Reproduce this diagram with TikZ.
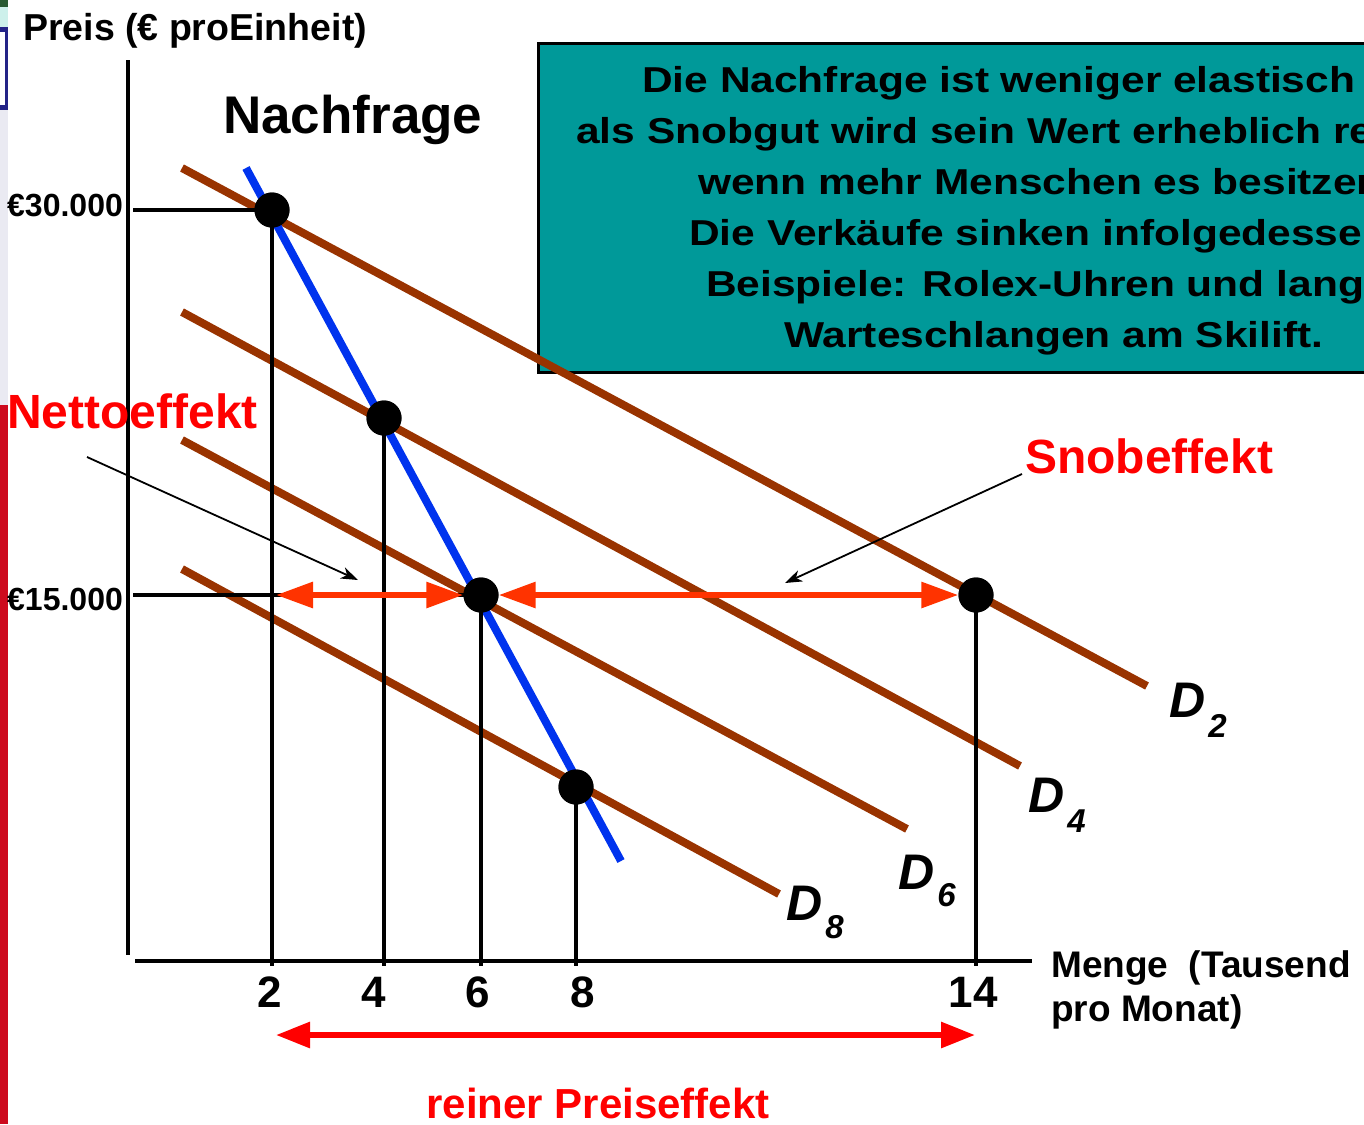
\documentclass[tikz,border=0pt]{standalone}
\usepackage{fontspec}
\setmainfont{Liberation Sans}
\newfontfamily\widefont[FakeStretch=1.18]{Liberation Sans}
\usetikzlibrary{arrows.meta}
\newcommand\myfs[1]{\fontsize{#1bp}{#1bp}\selectfont}
\definecolor{brownline}{RGB}{153,51,0}
\definecolor{blueline}{RGB}{0,51,238}
\definecolor{orangered}{RGB}{255,51,0}
\definecolor{pureRed}{RGB}{255,0,0}
\definecolor{tealfill}{RGB}{0,153,153}
\definecolor{navyedge}{RGB}{35,35,135}
\definecolor{barred}{RGB}{205,10,30}
\definecolor{lavgray}{RGB}{234,234,242}
\definecolor{topgreen}{RGB}{40,90,50}
\definecolor{lightcyan}{RGB}{205,240,235}
\begin{document}
\begin{tikzpicture}[x=1bp,y=-1bp,
  curve/.style={line width=8bp, draw=brownline},
  demand/.style={line width=8bp, draw=blueline},
  axisline/.style={line width=4bp, draw=black},
  guide/.style={line width=3.5bp, draw=black},
  dot/.style={circle, fill=black, minimum size=35bp, inner sep=0pt},
  effarrow/.style={line width=6bp, draw=orangered, fill=orangered,
    {Triangle[length=37bp,width=25bp]}-{Triangle[length=37bp,width=25bp]}},
  pricearrow/.style={line width=6bp, draw=pureRed, fill=pureRed,
    {Triangle[length=34bp,width=25bp]}-{Triangle[length=34bp,width=25bp]}},
  pointer/.style={line width=1.8bp, draw=black, -{Stealth[length=17bp,width=12bp,inset=5bp]}},
  lbl/.style={inner sep=0pt, anchor=base west, font=\bfseries},
  redlbl/.style={lbl, text=pureRed},
  boxtext/.style={inner sep=0pt, anchor=base west, font=\widefont\bfseries\myfs{36}},
  dlbl/.style={inner sep=0pt, anchor=base west, font=\bfseries\itshape\myfs{50}},
  tealbox/.style={draw=black, line width=3bp, fill=tealfill}
]
\useasboundingbox (0,0) rectangle (1364,1124);
\fill[white] (0,0) rectangle (1364,1124);

% left edge remnants
\fill[topgreen] (0,0) rectangle (8,7);
\fill[lightcyan] (0,7) rectangle (8,27);
\fill[navyedge] (0,27) rectangle (8,110);
\fill[white] (0,32) rectangle (5,105);
\fill[lavgray] (0,110) rectangle (8,405);
\fill[barred] (0,405) rectangle (8,1124);

% info box
\fill[tealfill] (538,43) rectangle (1380,372);
\draw[line width=3bp] (1380,43) -- (538,43) -- (538,372) -- (1380,372);
\node[boxtext] (t1) at (642,92) {Die Nachfrage ist weniger elastisch};
\node[boxtext] (t2) at (576,143) {als Snobgut wird sein Wert erheblich reduziert,};
\node[boxtext] (t3) at (698,194) {wenn mehr Menschen es besitzen.};
\node[boxtext] (t4) at (689,245) {Die Verkäufe sinken infolgedessen.};
\node[boxtext] (t5) at (706,296) {Beispiele: Rolex-Uhren und lange};
\node[boxtext] (t6) at (784,347) {Warteschlangen am Skilift.};

% axes
\coordinate (ytop) at (128,60);
\coordinate (ybot) at (128,955);
\coordinate (xl) at (135,961);
\coordinate (xr) at (1032,961);
\draw[axisline] (ytop) -- (ybot);
\draw[axisline] (xl) -- (xr);

% demand curves
\coordinate (d2s) at (182,168); \coordinate (d2e) at (1147,686);
\coordinate (d4s) at (182,312); \coordinate (d4e) at (1020,766);
\coordinate (d6s) at (182,440); \coordinate (d6e) at (907,829);
\coordinate (d8s) at (182,569); \coordinate (d8e) at (779,894);
\draw[curve] (d2s) -- (d2e);
\draw[curve] (d4s) -- (d4e);
\draw[curve] (d6s) -- (d6e);
\draw[curve] (d8s) -- (d8e);
\coordinate (ns) at (246,168); \coordinate (ne) at (621,861);
\draw[demand] (ns) -- (ne);

% points
\node[dot] (p2) at (272,210) {};
\node[dot] (p4) at (384,418) {};
\node[dot] (p6) at (481,595) {};
\node[dot] (p8) at (576,787) {};
\node[dot] (p14) at (976,595) {};

% guides
\coordinate (g2) at (272,966);
\coordinate (g4) at (384,966);
\coordinate (g6) at (481,966);
\coordinate (g8) at (576,966);
\coordinate (g14) at (976,966);
\coordinate (h30) at (133,210);
\coordinate (h15) at (133,595);
\draw[guide] (p2.center) -- (g2);
\draw[guide] (p4.center) -- (g4);
\draw[guide] (p6.center) -- (g6);
\draw[guide] (p8.center) -- (g8);
\draw[guide] (p14.center) -- (g14);
\draw[guide] (h30) -- (p2.center);
\draw[guide] (h15) -- (p6.center);

% effect arrows
\coordinate (e1) at (276,595);
\draw[effarrow] (e1) -- (p6.west);
\draw[effarrow] (p6.east) -- (p14.west);
\coordinate (b1) at (276,1035);
\coordinate (b2) at (975,1035);
\draw[pricearrow] (b1) -- (b2);

% redraw dots on top
\node[dot] at (p2) {};
\node[dot] at (p4) {};
\node[dot] at (p6) {};
\node[dot] at (p8) {};
\node[dot] at (p14) {};

% pointers
\coordinate (nt) at (87,457); \coordinate (nh) at (358,580);
\coordinate (st) at (1022,474); \coordinate (sh) at (785,583);
\draw[pointer] (nt) -- (nh);
\draw[pointer] (st) -- (sh);

% labels
\node[lbl, font=\bfseries\myfs{37.5}] (ylab) at (23,40) {Preis (€ proEinheit)};
\node[lbl, font=\bfseries\myfs{53}] (nach) at (223,133) {Nachfrage};
\node[lbl, font=\bfseries\myfs{32}] (l30) at (7,216) {€30.000};
\node[lbl, font=\bfseries\myfs{32}] (l15) at (7,610) {€15.000};
\node[redlbl, font=\bfseries\myfs{48}] (netto) at (7,428) {Nettoeffekt};
\node[redlbl, font=\bfseries\myfs{48}] (snob) at (1025,473) {Snobeffekt};
\node[lbl, font=\bfseries\myfs{37}] (xlab1) at (1051,977) {Menge~ (Tausend};
\node[lbl, font=\bfseries\myfs{37}] (xlab2) at (1051,1021) {pro Monat)};
\node[redlbl, anchor=base, font=\bfseries\myfs{42}] (reiner) at (598,1118) {reiner Preiseffekt};

\node[lbl, anchor=base, font=\bfseries\myfs{44}] (x2) at (270,1007) {2};
\node[lbl, anchor=base, font=\bfseries\myfs{44}] (x4) at (374,1007) {4};
\node[lbl, anchor=base, font=\bfseries\myfs{44}] (x6) at (478,1007) {6};
\node[lbl, anchor=base, font=\bfseries\myfs{44}] (x8) at (583,1007) {8};
\node[lbl, anchor=base, font=\bfseries\myfs{44}] (x14) at (973,1007) {14};

\node[dlbl] (D2) at (1169,717) {D\kern3bp\raisebox{-20bp}{\myfs{33}2}};
\node[dlbl] (D4) at (1028,812) {D\kern3bp\raisebox{-20bp}{\myfs{33}4}};
\node[dlbl] (D6) at (898,889) {D\kern3bp\raisebox{-17bp}{\myfs{33}6}};
\node[dlbl] (D8) at (786,920) {D\kern3bp\raisebox{-18bp}{\myfs{33}8}};
\end{tikzpicture}
\end{document}
